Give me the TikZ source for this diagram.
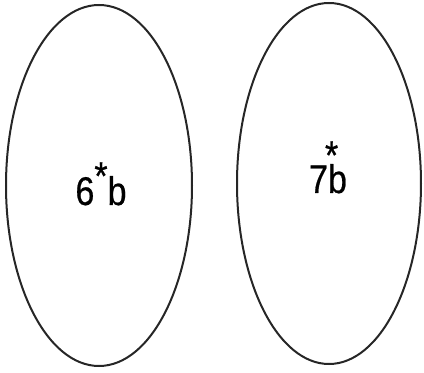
\documentclass[tikz,border=0pt]{standalone}
\usepackage{fontspec}
\setmainfont{Liberation Sans}
\newfontfamily\tagfont[FakeStretch=0.85,FakeBold=0.6]{Liberation Sans}
\usetikzlibrary{shapes.geometric}

\begin{document}
\begin{tikzpicture}[
    x=1pt, y=1pt,
    blob/.style={ellipse, draw=black!85, line width=2pt, inner sep=0pt},
    tag/.style={font=\tagfont\fontsize{40}{40}\selectfont, inner sep=0pt, anchor=base}]
\useasboundingbox (0,0) rectangle (424,373);
\node[blob, minimum width=186pt, minimum height=361pt] (left) at (99,187.5) {};
\node[blob, minimum width=184pt, minimum height=361pt] (right) at (329,189.5) {};
\node[tag] (six) at (101,168) {6\raisebox{0.38em}{*}b};
\node[tag] (seven) at (328,180) {7\makebox[0pt][l]{\kern-3pt\raisebox{0.6em}{*}}b};
\end{tikzpicture}
\end{document}
